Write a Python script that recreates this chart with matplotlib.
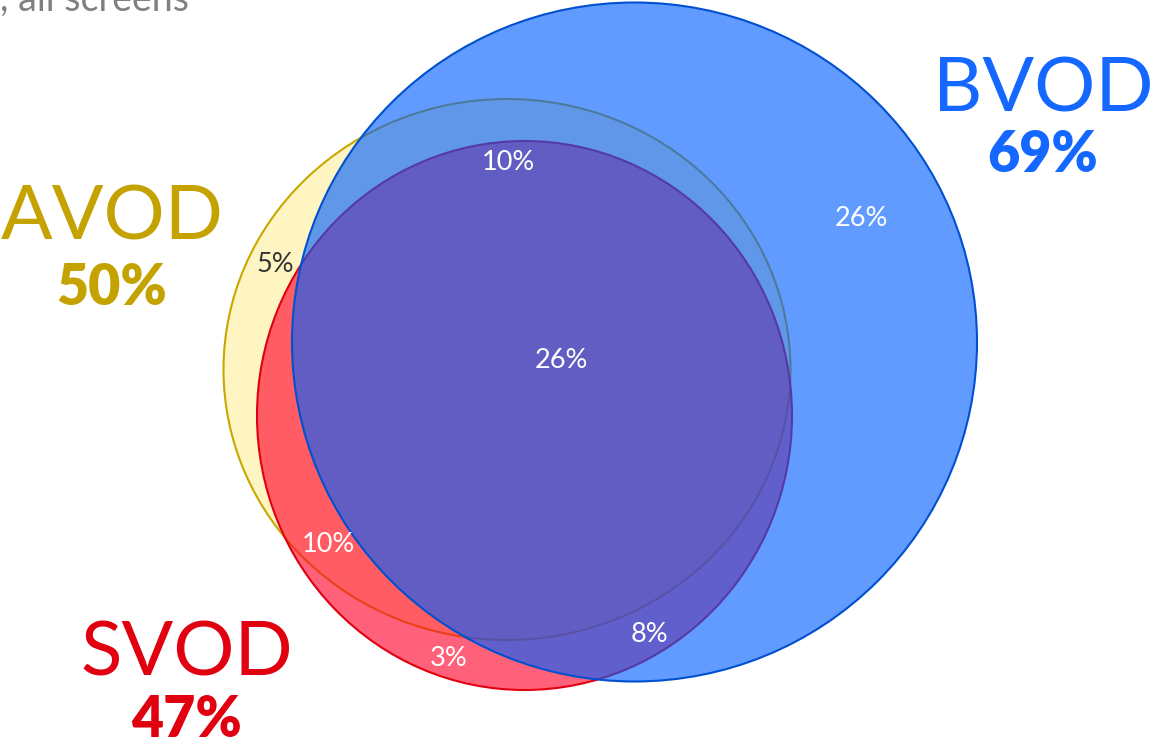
import matplotlib
matplotlib.use("Agg")
import matplotlib.pyplot as plt
from matplotlib.patches import Ellipse

# ---- data ----
sets = ["AVOD", "SVOD", "BVOD"]
set_totals = [50, 47, 69]
region_names = ["A&B only", "B only", "A only", "A&B&S", "A&S only", "B&S only", "S only"]
region_values = [10, 26, 5, 26, 10, 8, 3]
subtitle = ", all screens"

# ---- layout (pixel coordinates) ----
W, H = 1151, 740
shape_geom = {"AVOD": (507, 369.5, 567, 541), "SVOD": (524.5, 415.5, 535, 549),
              "BVOD": (634.5, 342, 685, 679)}
fill_colors = {"AVOD": ((1.0, 0.96, 0.765), 1.0),
               "SVOD": ((1.0, 0.0, 0.16), 0.62),
               "BVOD": ((0.0, 0.37, 1.0), 0.62)}
edge_colors = {"AVOD": "#C8A800", "SVOD": "#E00010", "BVOD": "#0050D0"}
title_colors = {"AVOD": "#C4A300", "SVOD": "#E00010", "BVOD": "#1467FF"}
title_pos = {"AVOD": (112, 240, 305), "SVOD": (187, 675, 737), "BVOD": (1043, 112, 172)}
region_pos = [(508, 162), (861, 219), (275, 264), (561, 361), (328, 545), (649, 634), (449, 658)]
region_text_colors = ["white", "white", "#333333", "white", "white", "white", "white"]

fig = plt.figure(figsize=(W / 100, H / 100), dpi=100)
ax = fig.add_axes([0, 0, 1, 1])
ax.set_xlim(0, W)
ax.set_ylim(H, 0)
ax.set_aspect("equal")
ax.axis("off")

for s in sets:
    cx, cy, w, h = shape_geom[s]
    col, a = fill_colors[s]
    ax.add_patch(Ellipse((cx, cy), w, h, facecolor=col, alpha=a, edgecolor="none", lw=0))
    ax.add_patch(Ellipse((cx, cy), w, h, facecolor="none", edgecolor=edge_colors[s], lw=1.5))

for val, (x, y), c in zip(region_values, region_pos, region_text_colors):
    ax.text(x, y, f"{val}%", ha="center", va="center", fontsize=19.5, color=c, family="Lato")

for s, tot in zip(sets, set_totals):
    x, y1, y2 = title_pos[s]
    ax.text(x, y1, s, ha="center", va="baseline", fontsize=55, color=title_colors[s],
            family="Lato", fontweight="normal")
    ax.text(x, y2, f"{tot}%", ha="center", va="baseline", fontsize=40, color=title_colors[s],
            family="Lato", fontweight="heavy")

ax.text(0, 11, subtitle, ha="left", va="baseline", fontsize=27, color="#808080", family="Lato")

fig.savefig("out.png", dpi=100)
